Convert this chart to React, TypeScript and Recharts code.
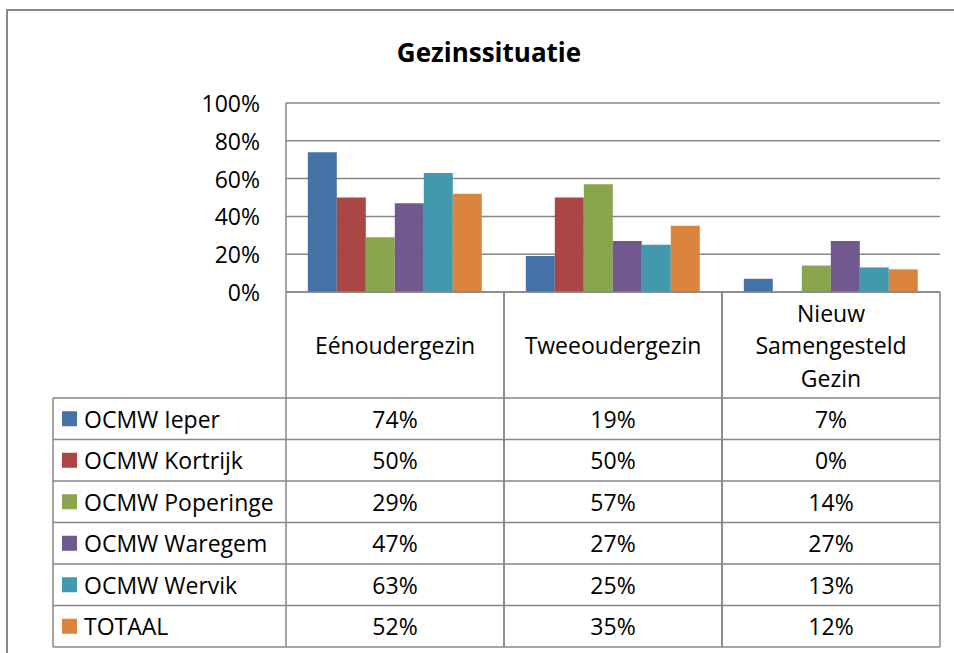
import React from "react";
import { BarChart, Bar, XAxis, YAxis, CartesianGrid } from "recharts";

const categories = ["Eénoudergezin", "Tweeoudergezin", "Nieuw Samengesteld Gezin"];
const categoryLines = [["Eénoudergezin"], ["Tweeoudergezin"], ["Nieuw", "Samengesteld", "Gezin"]];
const seriesNames = ["OCMW Ieper", "OCMW Kortrijk", "OCMW Poperinge", "OCMW Waregem", "OCMW Wervik", "TOTAAL"];
const ieper = [74, 19, 7];
const kortrijk = [50, 50, 0];
const poperinge = [29, 57, 14];
const waregem = [47, 27, 27];
const wervik = [63, 25, 13];
const totaal = [52, 35, 12];
const yTicks = [0, 20, 40, 60, 80, 100];

const seriesValues = [ieper, kortrijk, poperinge, waregem, wervik, totaal];
const colors = ["#4572A7", "#AA4643", "#89A54E", "#71588F", "#4198AF", "#DB843D"];
const keys = ["s0", "s1", "s2", "s3", "s4", "s5"];

const data = categories.map((c, i) => {
  const row: any = { name: c, idx: i };
  seriesValues.forEach((s, j) => (row[keys[j]] = s[i]));
  return row;
});

const FONT = "'Open Sans', sans-serif";
const LINE = "#878787";
const PLOT_TOP = 103;
const PLOT_BOTTOM = 292;
const HEADER_BOTTOM = 398;
const TABLE_BOTTOM = 647;
const LEGEND_LEFT = 53;
const PLOT_LEFT = 286;
const ROW_H = (TABLE_BOTTOM - HEADER_BOTTOM) / seriesNames.length;

const XTick = (props: any) => {
  const { x, payload } = props;
  const idx = payload.index ?? categories.indexOf(payload.value);
  const bandW = (940 - PLOT_LEFT) / categories.length;
  const left = x - bandW / 2;
  const right = x + bandW / 2;
  const lines = categoryLines[idx] || [payload.value];
  const lh = 32.5;
  const headerMid = (PLOT_BOTTOM + HEADER_BOTTOM) / 2;
  const startY = headerMid - ((lines.length - 1) * lh) / 2;
  const els: any[] = [];
  els.push(<line key="vl" x1={left} y1={PLOT_BOTTOM} x2={left} y2={TABLE_BOTTOM} stroke={LINE} strokeWidth={1.5} />);
  els.push(<line key="vr" x1={right} y1={PLOT_BOTTOM} x2={right} y2={TABLE_BOTTOM} stroke={LINE} strokeWidth={1.5} />);
  lines.forEach((t: string, k: number) =>
    els.push(
      <text key={"h" + k} x={x} y={startY + k * lh} textAnchor="middle" dominantBaseline="central" fontFamily={FONT} fontSize={23} fill="#000">
        {t}
      </text>
    )
  );
  for (let r = 0; r <= seriesNames.length; r++) {
    const yy = HEADER_BOTTOM + r * ROW_H;
    els.push(<line key={"hl" + r} x1={left} y1={yy} x2={right} y2={yy} stroke={LINE} strokeWidth={1.5} />);
  }
  seriesValues.forEach((s, r) => {
    els.push(
      <text key={"v" + r} x={x} y={HEADER_BOTTOM + (r + 0.5) * ROW_H} textAnchor="middle" dominantBaseline="central" fontFamily={FONT} fontSize={23} fill="#000">
        {s[idx] + "%"}
      </text>
    );
  });
  if (idx === 0) {
    els.push(<line key="ll" x1={LEGEND_LEFT} y1={HEADER_BOTTOM} x2={LEGEND_LEFT} y2={TABLE_BOTTOM} stroke={LINE} strokeWidth={1.5} />);
    for (let r = 0; r <= seriesNames.length; r++) {
      const yy = HEADER_BOTTOM + r * ROW_H;
      els.push(<line key={"lh" + r} x1={LEGEND_LEFT} y1={yy} x2={left} y2={yy} stroke={LINE} strokeWidth={1.5} />);
    }
    seriesNames.forEach((n, r) => {
      const cy = HEADER_BOTTOM + (r + 0.5) * ROW_H;
      els.push(<rect key={"k" + r} x={62} y={cy - 7.5} width={15} height={15} fill={colors[r]} />);
      els.push(
        <text key={"n" + r} x={84} y={cy} dominantBaseline="central" fontFamily={FONT} fontSize={23} fill="#000">
          {n}
        </text>
      );
    });
  }
  return <g>{els}</g>;
};

const YTick = (props: any) => {
  const { y, payload } = props;
  return (
    <text x={260} y={y} textAnchor="end" dominantBaseline="central" fontFamily={FONT} fontSize={23} fill="#000">
      {payload.value + "%"}
    </text>
  );
};

export default function App() {
  return (
    <div style={{ position: "absolute", left: 0, top: 0, width: 954, height: 653, background: "#fff", overflow: "hidden" }}>
      <div style={{ position: "absolute", left: 6, top: 9, width: 960, height: 660, borderTop: `2px solid ${LINE}`, borderLeft: `2px solid ${LINE}` }} />
      <svg width={954} height={80} style={{ position: "absolute", left: 0, top: 0 }}>
        <text x={489} y={62} textAnchor="middle" fontFamily={FONT} fontWeight={700} fontSize={26} fill="#000">
          Gezinssituatie
        </text>
      </svg>
      <BarChart
        width={954}
        height={653}
        data={data}
        margin={{ top: PLOT_TOP, right: 14, bottom: 6, left: 0 }}
        barCategoryGap="10%"
        barGap={0}
        style={{ position: "absolute", left: 0, top: 0 }}
      >
        <CartesianGrid horizontal vertical={false} stroke={LINE} strokeWidth={1.5} />
        <YAxis
          width={PLOT_LEFT}
          domain={[0, 100]}
          ticks={yTicks}
          tick={<YTick />}
          tickLine={false}
          axisLine={{ stroke: LINE, strokeWidth: 1.5 }}
          interval={0}
        />
        <XAxis
          dataKey="name"
          height={TABLE_BOTTOM - PLOT_BOTTOM}
          tick={<XTick />}
          tickLine={false}
          axisLine={{ stroke: LINE, strokeWidth: 1.5 }}
          interval={0}
        />
        {keys.map((k, i) => (
          <Bar key={k} dataKey={k} fill={colors[i]} isAnimationActive={false} />
        ))}
      </BarChart>
    </div>
  );
}
